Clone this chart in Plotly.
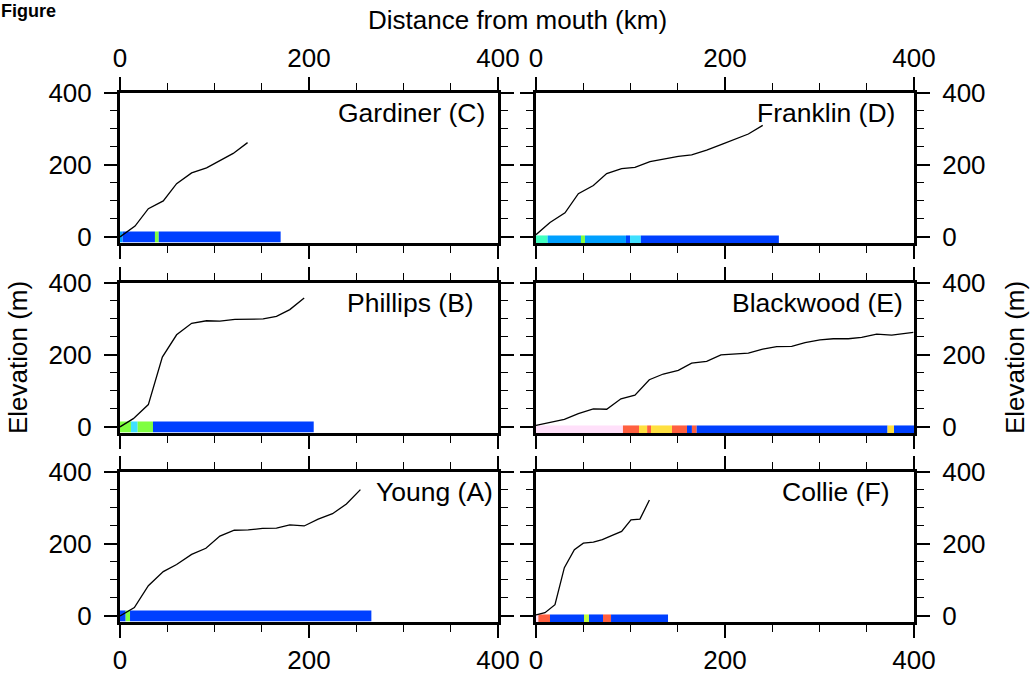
import plotly.graph_objects as go

# ---------------- data ----------------
# Long profiles: distance from mouth (km) and elevation (m)
gardiner_km = [0, 8.8, 15.9, 30, 45.8, 59.9, 75.8, 91.6, 105.7, 119.8, 135]
gardiner_m = [0, 15.7, 30, 78.5, 100, 148, 178, 192, 211, 232, 262]

franklin_km = [0, 14.8, 30.7, 44.8, 60.7, 74.8, 90.6, 104.7, 120.6, 136.5, 150.6,
               164.7, 180.6, 196.5, 210.6, 224.7, 239.9]
franklin_m = [6, 40, 67, 120, 143, 176, 190, 193, 209, 217, 224, 228, 241, 257, 271, 286, 310]

phillips_km = [0, 8.8, 14.1, 30, 44.8, 59.9, 75.8, 91.6, 105.7, 121.6, 137.4, 151.5,
               165.6, 179.7, 194.9]
phillips_m = [0, 15.8, 23, 62, 194, 256, 288, 295, 294, 299, 300, 300, 307, 326, 358]

blackwood_km = [0, 14.8, 30, 44.8, 60.7, 74.8, 89.9, 104.7, 119.9, 134.7, 150.6, 164.7,
                180.6, 195.7, 210.6, 224.7, 239.9, 254.7, 270.6, 284.7, 300.5, 314.6,
                330.5, 344.6, 360.5, 376.4, 399.3]
blackwood_m = [4, 12, 21, 37, 50, 49, 78, 88, 131, 147, 157, 177, 182, 200, 202, 205,
               216, 223, 224, 234, 242, 245, 245, 249, 258, 255, 263]

young_km = [0, 8.8, 15.2, 30, 45.8, 59.9, 75.8, 90.9, 105.7, 120.9, 135.7, 150.8, 165.6,
            179.7, 194.9, 209.7, 224.9, 239.6, 254.4]
young_m = [0, 13, 23, 84, 123, 143, 171, 188, 222, 238, 239, 243, 244, 253, 250, 269,
           284, 311, 351]

collie_km = [0, 9.5, 20.1, 30, 40.6, 50.1, 60.7, 70.2, 80, 90.6, 100.5, 110, 120]
collie_m = [3, 9, 31, 134, 184, 202, 205, 212, 223, 235, 267, 269, 322]

# Channel-class segments along each river (start km, end km, class)
gardiner_seg_start = [0, 2.8, 37, 41]
gardiner_seg_end = [2.8, 37, 41, 170]
gardiner_seg_class = ["lightblue", "blue", "green", "blue"]

franklin_seg_start = [0, 12.3, 47.6, 51.8, 95.2, 99.5, 111]
franklin_seg_end = [12.3, 47.6, 51.8, 95.2, 99.5, 111, 257]
franklin_seg_class = ["aqua", "lightblue", "green", "lightblue", "blue", "cyan", "blue"]

phillips_seg_start = [0, 11.6, 18.7, 34.9]
phillips_seg_end = [11.6, 18.7, 34.9, 205]
phillips_seg_class = ["green", "cyan", "green", "blue"]

blackwood_seg_start = [0, 92, 109, 117.6, 121.7, 143.9, 159.8, 165, 170, 372, 378.8]
blackwood_seg_end = [92, 109, 117.6, 121.7, 143.9, 159.8, 165, 170, 372, 378.8, 400]
blackwood_seg_class = ["pink", "orange", "yellow", "orange", "yellow", "orange", "blue",
                       "orange", "blue", "yellow", "blue"]

young_seg_start = [0, 6, 10.6]
young_seg_end = [6, 10.6, 266]
young_seg_class = ["blue", "green", "blue"]

collie_seg_start = [0, 2.5, 14.8, 50.8, 56.1, 70.9, 79.4]
collie_seg_end = [2.5, 14.8, 50.8, 56.1, 70.9, 79.4, 139.7]
collie_seg_class = ["pink", "orange", "blue", "yelgreen", "blue", "orange", "blue"]

river_names = ["Gardiner (C)", "Franklin (D)", "Phillips (B)", "Blackwood (E)",
               "Young (A)", "Collie (F)"]

x_ticks = [0, 200, 400]
y_ticks = [0, 200, 400]

# ---------------- styles ----------------
class_colors = {
    "blue": "#0040FF",
    "lightblue": "#00A0FF",
    "cyan": "#40E0FF",
    "aqua": "#40FFC0",
    "green": "#80FF40",
    "yelgreen": "#C0FF40",
    "yellow": "#FFE040",
    "orange": "#FF6040",
    "pink": "#FFE0FA",
}

W, H = 1031, 674
FONT = "Liberation Sans, Arial, Helvetica, sans-serif"
FS = 26
FS_LABEL = 26.5

rivers = [
    (gardiner_km, gardiner_m, gardiner_seg_start, gardiner_seg_end, gardiner_seg_class),
    (franklin_km, franklin_m, franklin_seg_start, franklin_seg_end, franklin_seg_class),
    (phillips_km, phillips_m, phillips_seg_start, phillips_seg_end, phillips_seg_class),
    (blackwood_km, blackwood_m, blackwood_seg_start, blackwood_seg_end, blackwood_seg_class),
    (young_km, young_m, young_seg_start, young_seg_end, young_seg_class),
    (collie_km, collie_m, collie_seg_start, collie_seg_end, collie_seg_class),
]

# panel pixel boxes (left, right) and (top, bottom)
col_px = [(120, 498), (536, 914)]
row_px = [(93, 243), (283, 433), (472, 622)]
bar_band = {0: (-15, 15), 1: (-21, 4)}          # bar vertical extent by column
label_right_km = [388, 382, 377, 390, 397, 376]  # right edge of panel names
label_y_m = 345

fig = go.Figure()
layout = dict(
    width=W, height=H, margin=dict(l=0, r=0, t=0, b=0, autoexpand=False),
    paper_bgcolor="white", plot_bgcolor="white", showlegend=False,
    barmode="overlay", font=dict(family=FONT, size=FS, color="black"),
)
annotations = []

for i, (km, elev, s0, s1, cls) in enumerate(rivers):
    r, c = divmod(i, 2)
    n = i + 1
    xa = "x" if n == 1 else f"x{n}"
    ya = "y" if n == 1 else f"y{n}"
    # profile line (drawn first, class bar on top)
    fig.add_trace(go.Scatter(x=km, y=elev, mode="lines", xaxis=xa, yaxis=ya,
                             line=dict(color="black", width=1.3), hoverinfo="skip"))
    b0, b1 = bar_band[c]
    mids = [(a + b) / 2 for a, b in zip(s0, s1)]
    widths = [b - a for a, b in zip(s0, s1)]
    fig.add_trace(go.Bar(x=mids, y=[b1 - b0] * len(mids), base=[b0] * len(mids),
                         width=widths, xaxis=xa, yaxis=ya, cliponaxis=False,
                         marker=dict(color=[class_colors[k] for k in cls], line=dict(width=0)),
                         hoverinfo="skip"))

    xl, xr = col_px[c]
    yt, yb = row_px[r]
    xkey = "xaxis" if n == 1 else f"xaxis{n}"
    ykey = "yaxis" if n == 1 else f"yaxis{n}"
    layout[xkey] = dict(
        domain=[xl / W, xr / W], anchor=ya, range=[0, 400], tickvals=x_ticks,
        showline=True, linewidth=3, linecolor="black", mirror="allticks",
        ticks="outside", ticklen=13, tickwidth=1.5, tickcolor="black",
        minor=dict(dtick=50, tick0=0, ticks="outside", ticklen=7, tickwidth=1, tickcolor="black"),
        showgrid=False, zeroline=False, layer="below traces", automargin=False,
        showticklabels=(r != 1), side=("top" if r == 0 else "bottom"),
        tickfont=dict(size=FS, family=FONT, color="black"),
    )
    layout[ykey] = dict(
        domain=[(H - yb) / H, (H - yt) / H], anchor=xa, range=[-17, 400], tickvals=y_ticks,
        showline=True, linewidth=3, linecolor="black", mirror="allticks",
        ticks="outside", ticklen=13, tickwidth=1.5, tickcolor="black",
        minor=dict(dtick=50, tick0=0, ticks="outside", ticklen=7, tickwidth=1, tickcolor="black"),
        showgrid=False, zeroline=False, layer="below traces", automargin=False,
        side=("left" if c == 0 else "right"),
        tickfont=dict(size=FS, family=FONT, color="black"),
        ticklabelstandoff=7,
    )
    annotations.append(dict(
        text=river_names[i], x=label_right_km[i], y=label_y_m, xref=xa, yref=ya,
        xanchor="right", yanchor="middle", showarrow=False,
        font=dict(size=FS_LABEL, family=FONT, color="black"),
    ))

annotations += [
    dict(text="Distance from mouth (km)", x=517 / W, y=1 - 20 / H, xref="paper", yref="paper",
         xanchor="center", yanchor="middle", showarrow=False,
         font=dict(size=FS, family=FONT, color="black")),
    dict(text="Elevation (m)", x=18 / W, y=1 - 358 / H, xref="paper", yref="paper",
         xanchor="center", yanchor="middle", textangle=-90, showarrow=False,
         font=dict(size=FS, family=FONT, color="black")),
    dict(text="Elevation (m)", x=1015 / W, y=1 - 358 / H, xref="paper", yref="paper",
         xanchor="center", yanchor="middle", textangle=-90, showarrow=False,
         font=dict(size=FS, family=FONT, color="black")),
    dict(text="<b>Figure</b>", x=0, y=1, xref="paper", yref="paper",
         xanchor="left", yanchor="top", showarrow=False, borderpad=0,
         font=dict(size=18, family=FONT, color="black")),
]
layout["annotations"] = annotations
fig.update_layout(**layout)
fig.write_html(
    "out.html",
    config={"displayModeBar": False},
    post_script="document.body.style.margin='0px';document.body.style.overflow='hidden';",
)
